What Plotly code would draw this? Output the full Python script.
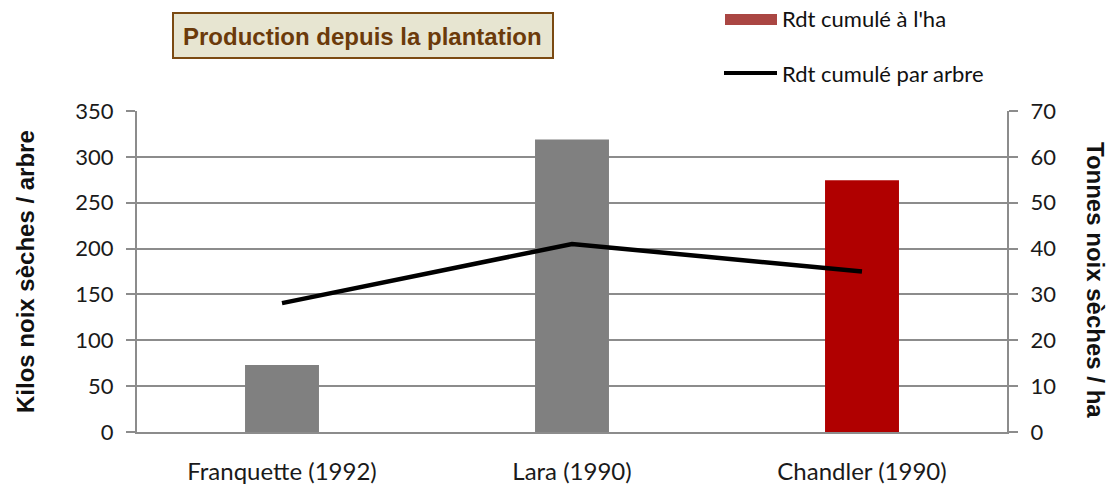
import plotly.graph_objects as go

categories = ["Franquette (1992)", "Lara (1990)", "Chandler (1990)"]
rdt_ha = [14.6, 63.8, 54.9]          # tonnes / ha (right axis, bars)
rdt_arbre = [140.5, 205, 175]         # kilos / arbre (left axis, line)
bar_colors = ["#808080", "#808080", "#B00000"]
left_ticks = [0, 50, 100, 150, 200, 250, 300, 350]
right_ticks = [0, 10, 20, 30, 40, 50, 60, 70]

W, H = 1110, 490
L, R, T, B = 137, 103, 111, 58
pw, ph = W - L - R, H - T - B
tick_font = dict(family="Lato, Liberation Sans, sans-serif", size=22, color="#1a1a1a")
cat_font = dict(family="Lato, Liberation Sans, sans-serif", size=24, color="#1a1a1a")
grid = "#8c8c8c"

fig = go.Figure()
fig.add_trace(go.Bar(x=categories, y=rdt_ha, marker=dict(color=bar_colors, line=dict(width=0)),
                     width=0.255, yaxis="y", name="Rdt cumulé à l'ha", showlegend=False))
fig.add_trace(go.Scatter(x=categories, y=rdt_arbre, mode="lines", line=dict(color="black", width=4.5),
                         yaxis="y2", name="Rdt cumulé par arbre", showlegend=False))

fig.update_layout(
    template="none",
    width=W, height=H, margin=dict(l=L, r=R, t=T, b=B, autoexpand=False), autosize=False,
    paper_bgcolor="white", plot_bgcolor="white",
    xaxis=dict(showgrid=False, showline=True, linecolor=grid, linewidth=2, ticks="",
               tickfont=cat_font, ticklabelstandoff=17, zeroline=False, automargin=False),
    # right axis: tonnes / ha (bars)
    yaxis=dict(range=[0, 70], tickvals=right_ticks, side="right", showgrid=True, gridcolor=grid,
               gridwidth=1.5, showline=True, linecolor=grid, linewidth=2, ticks="outside", ticklen=9,
               tickcolor=grid, tickwidth=1.5, tickfont=tick_font, zeroline=False, ticklabelstandoff=8,
               automargin=False),
    # left axis: kilos / arbre (line), drawn on top
    yaxis2=dict(range=[0, 350], tickvals=left_ticks, overlaying="y", side="left", showgrid=False,
                showline=True, linecolor=grid, linewidth=2, ticks="outside", ticklen=9,
                tickcolor=grid, tickwidth=1.5, tickfont=tick_font, zeroline=False, ticklabelstandoff=8,
                automargin=False),
    showlegend=False,
)

title_font = dict(family="Liberation Sans, Arial, sans-serif", size=24, color="#111111")
fig.add_annotation(text="<b>Kilos noix sèches / arbre</b>", xref="paper", yref="paper",
                   x=(25 - L) / pw, y=(H - B - 272) / ph, textangle=-90, showarrow=False, font=title_font,
                   xanchor="center", yanchor="middle")
fig.add_annotation(text="<b>Tonnes noix sèches / ha</b>", xref="paper", yref="paper",
                   x=(1096 - L) / pw, y=(H - B - 280) / ph, textangle=90, showarrow=False, font=title_font,
                   xanchor="center", yanchor="middle")

# Title box
fig.add_shape(type="rect", xref="paper", yref="paper",
              x0=(173 - L) / pw, x1=(553 - L) / pw,
              y0=1 + (T - 58) / ph, y1=1 + (T - 13) / ph,
              fillcolor="#E7E5D1", line=dict(color="#7B4A12", width=2), layer="above")
fig.add_annotation(text="<b>Production depuis la plantation</b>", xref="paper", yref="paper",
                   x=(362 - L) / pw, y=1 + (T - 36) / ph, showarrow=False,
                   font=dict(family="Liberation Sans, Arial, sans-serif", size=24, color="#6B3A0A"),
                   xanchor="center", yanchor="middle")

# Manual legend
fig.add_shape(type="rect", xref="paper", yref="paper",
              x0=(725 - L) / pw, x1=(777 - L) / pw, y0=1 + (T - 25) / ph, y1=1 + (T - 14) / ph,
              fillcolor="#AA4643", line=dict(width=0))
fig.add_shape(type="line", xref="paper", yref="paper",
              x0=(724 - L) / pw, x1=(777 - L) / pw, y0=1 + (T - 73) / ph, y1=1 + (T - 73) / ph,
              line=dict(color="black", width=4))
leg_font = dict(family="Lato, Liberation Sans, sans-serif", size=22, color="#111111")
fig.add_annotation(text="Rdt cumulé à l'ha", xref="paper", yref="paper", x=(780 - L) / pw,
                   y=1 + (T - 19) / ph, showarrow=False, xanchor="left", yanchor="middle", font=leg_font)
fig.add_annotation(text="Rdt cumulé par arbre", xref="paper", yref="paper", x=(780 - L) / pw,
                   y=1 + (T - 73) / ph, showarrow=False, xanchor="left", yanchor="middle", font=leg_font)

fig.write_html("out.html", config={"displayModeBar": False},
               post_script="document.body.style.margin='0';document.body.style.overflow='hidden';")
